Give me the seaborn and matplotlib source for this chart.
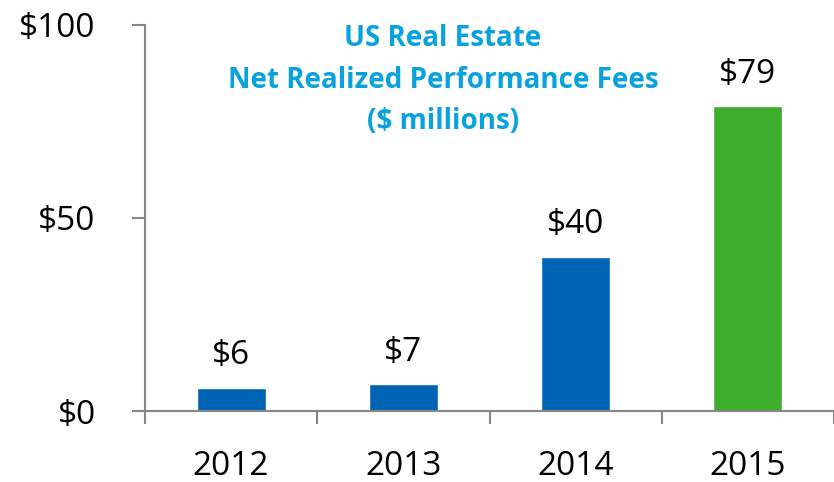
import matplotlib
matplotlib.use("Agg")
import matplotlib.pyplot as plt
import seaborn as sns
import pandas as pd

years = ["2012", "2013", "2014", "2015"]
fees = [6, 7, 40, 79]
labels = ["$6", "$7", "$40", "$79"]
colors = ["#0064B4", "#0064B4", "#0064B4", "#3DAE2B"]
yticks = [0, 50, 100]
ytick_labels = ["$0", "$50", "$100"]

sns.set_theme(style="white")
plt.rcParams["font.family"] = ["Open Sans", "DejaVu Sans"]

df = pd.DataFrame({"year": years, "fees": fees})

fig = plt.figure(figsize=(8.34, 4.82), dpi=100)
ax = fig.add_axes([145 / 834, 1 - 411 / 482, (834 - 145) / 834, (411 - 25) / 482])

sns.barplot(data=df, x="year", y="fees", hue="year", palette=colors,
            width=0.4, legend=False, ax=ax, saturation=1)

ax.set_xlim(-0.5, 3.5)
ax.set_ylim(0, 100)
ax.set_xlabel("")
ax.set_ylabel("")

spine_color = "#868686"
for side in ["top", "right"]:
    ax.spines[side].set_visible(False)
for side in ["left", "bottom"]:
    ax.spines[side].set_color(spine_color)
    ax.spines[side].set_linewidth(1.5)

ax.set_yticks(yticks)
ax.set_yticklabels(ytick_labels, fontsize=24)
ax.tick_params(axis="y", left=True, length=9.5, width=1.5, color=spine_color,
               direction="out", pad=26, labelcolor="black")

# category ticks sit on the boundaries; labels centred under bars
ax.set_xticks([-0.5, 0.5, 1.5, 2.5, 3.5], minor=False)
ax.set_xticklabels([])
ax.set_xticks(range(len(years)), minor=True)
ax.set_xticklabels(years, minor=True, fontsize=24)
ax.tick_params(axis="x", which="major", bottom=True, length=9.5, width=1.5,
               color=spine_color, direction="out")
ax.tick_params(axis="x", which="minor", bottom=True, length=0, pad=28,
               labelcolor="black")

for i, (v, t) in enumerate(zip(fees, labels)):
    ax.text(i, v + 4, t, ha="center", va="bottom", fontsize=24, color="black")

fig.text(443 / 834, 1 - 80 / 482,
         "US Real Estate\nNet Realized Performance Fees\n($ millions)",
         ha="center", va="center", fontsize=20, fontweight="bold",
         color="#08A2DE", linespacing=1.55)

fig.savefig("out.png", dpi=100)
